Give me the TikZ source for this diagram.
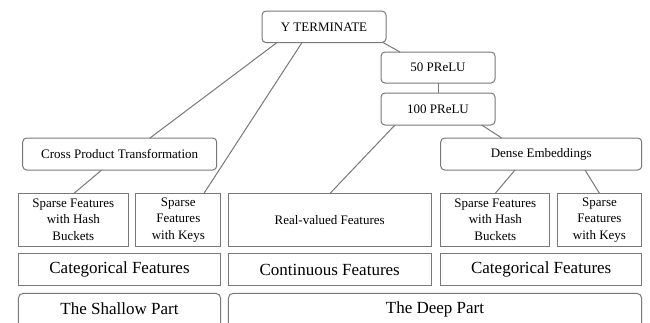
\documentclass[tikz,border=0pt]{standalone}
\usepackage{fontspec}
\setmainfont{Liberation Serif}
\definecolor{lc}{RGB}{120,120,120}
\tikzset{
  base/.style={draw=lc, line width=1pt, inner sep=0pt, outer sep=0pt, align=center, text=black},
  rbox/.style={base, rounded corners=4pt, font=\fontsize{13}{16}\selectfont},
  sbox/.style={base, font=\fontsize{13}{16.5}\selectfont},
  bigbox/.style={base, font=\fontsize{17}{20}\selectfont},
  bigrbox/.style={base, rounded corners=5pt, font=\fontsize{17}{20}\selectfont},
  link/.style={draw=lc, line width=1pt},
}
\begin{document}
\begin{tikzpicture}[x=1pt, y=-1pt]
\useasboundingbox (0,0) rectangle (650,322);
\clip (0,0) rectangle (650,322);
% top
\node[rbox, minimum width=124pt, minimum height=31.5pt] (yt) at (324,26.75) {Y TERMINATE};
\node[rbox, minimum width=114pt, minimum height=31pt] (p50) at (438,67.5) {50 PReLU};
\node[rbox, minimum width=114pt, minimum height=32pt] (p100) at (438,109) {100 PReLU};
\node[rbox, minimum width=194pt, minimum height=32pt] (cpt) at (119.7,154) {Cross Product Transformation};
\node[rbox, minimum width=201pt, minimum height=32pt] (dense) at (541.2,154) {Dense Embeddings};
% feature row
\node[sbox, minimum width=110pt, minimum height=52.7pt] (shL) at (73.3,219.7) {Sparse Features\\with Hash\\Buckets};
\node[sbox, minimum width=84.7pt, minimum height=52.7pt] (kL) at (178.3,219.7) {Sparse\\Features\\with Keys};
\node[sbox, minimum width=202.7pt, minimum height=52.7pt] (real) at (329.7,219.7) {Real-valued Features};
\node[sbox, minimum width=109.3pt, minimum height=52.7pt] (shR) at (495.3,219.7) {Sparse Features\\with Hash\\Buckets};
\node[sbox, minimum width=84.4pt, minimum height=52.7pt] (kR) at (599.5,219.7) {Sparse\\Features\\with Keys};
% category row
\node[bigbox, minimum width=202.4pt, minimum height=32.4pt] (catL) at (119.5,269.5) {Categorical Features};
\node[bigbox, minimum width=202.7pt, minimum height=32.4pt] (cont) at (329.7,269.5) {Continuous Features};
\node[bigbox, minimum width=201pt, minimum height=32.4pt] (catR) at (541.2,269.5) {Categorical Features};
% parts
\node[bigrbox, minimum width=202.4pt, minimum height=44pt, anchor=north] (shallow) at (119.5,293.3) {};
\node[bigrbox, minimum width=413.4pt, minimum height=44pt, anchor=north] (deep) at (435,293.3) {};
\node[font=\fontsize{17}{20}\selectfont, anchor=center] (shallowt) at (119.5,309) {The Shallow Part};
\node[font=\fontsize{17}{20}\selectfont, anchor=center] (deept) at (435,309) {The Deep Part};
% links
\draw[link] ([xshift=15pt]yt.south west) -- ([xshift=127.3pt]cpt.north west);
\draw[link] ([xshift=40pt]yt.south west) -- ([xshift=68pt]kL.north west);
\draw[link] ([xshift=-3pt]yt.south east) -- ([xshift=19pt]p50.north west);
\draw[link] (p50.south) -- (p100.north);
\draw[link] ([xshift=14pt]p100.south west) -- ([xshift=101.7pt]real.north west);
\draw[link] ([xshift=-13.3pt]p100.south east) -- ([xshift=61pt]dense.north west);
\draw[link] ([xshift=79pt]cpt.south west) -- ([xshift=55.7pt]shL.north west);
\draw[link] ([xshift=74.3pt]dense.south west) -- (shR.north);
\draw[link] ([xshift=144.3pt]dense.south west) -- (kR.north);
\end{tikzpicture}
\end{document}
